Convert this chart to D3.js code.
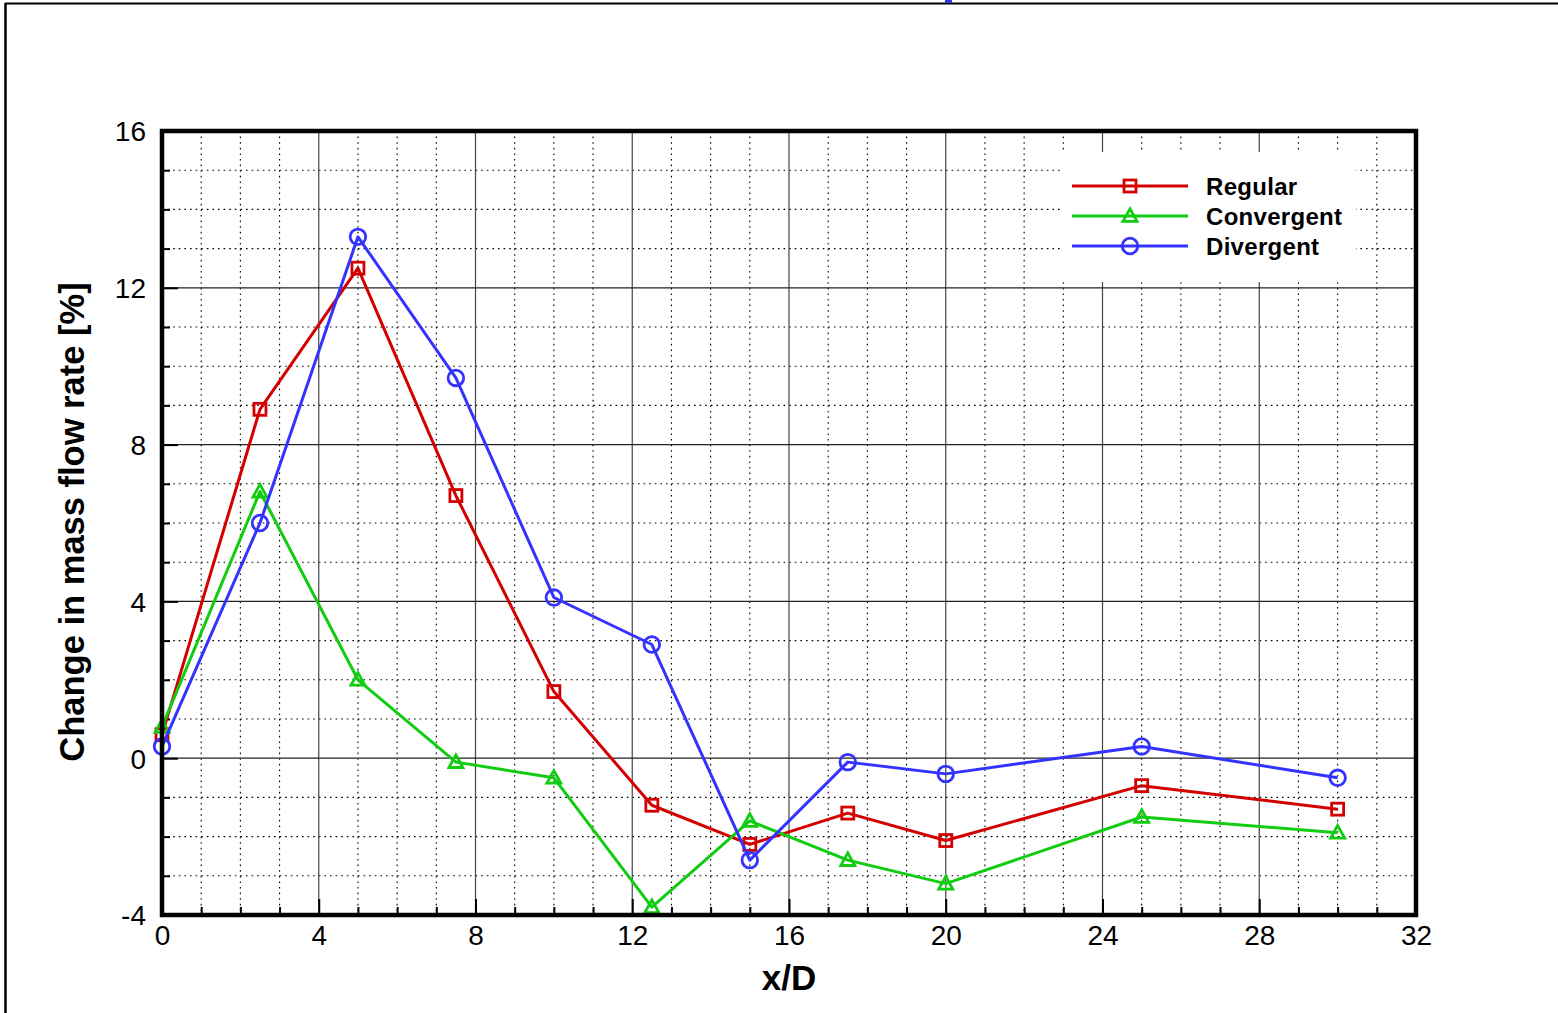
<!DOCTYPE html>
<html>
<head>
<meta charset="utf-8">
<script src="https://cdn.jsdelivr.net/npm/d3@7"></script>
<style>
  html, body { margin: 0; padding: 0; background: #fff; }
  svg { display: block; }
  text { font-family: "Liberation Sans", Arial, sans-serif; }
</style>
</head>
<body>
<svg id="chart" width="1558" height="1013"></svg>
<script>
// Streamwise stations (x/D) and the change in mass flow rate [%] for each hole shape
const xStations = [0, 2.5, 5, 7.5, 10, 12.5, 15, 17.5, 20, 25, 30];
const regular    = [0.6, 8.9, 12.5, 6.7, 1.7, -1.2, -2.2, -1.4, -2.1, -0.7, -1.3];
const convergent = [0.8, 6.8, 2.0, -0.1, -0.5, -3.8, -1.6, -2.6, -3.2, -1.5, -1.9];
const divergent  = [0.3, 6.0, 13.3, 9.7, 4.1, 2.9, -2.6, -0.1, -0.4, 0.3, -0.5];

const seriesNames = ["Regular", "Convergent", "Divergent"];
const seriesColors = ["#d40000", "#11cc11", "#3333ff"];
const seriesSymbols = ["square", "triangle", "circle"];

const xTicks = [0, 4, 8, 12, 16, 20, 24, 28, 32];
const yTicks = [-4, 0, 4, 8, 12, 16];

const xTitle = "x/D";
const yTitle = "Change in mass flow rate [%]";

const svg = d3.select("#chart");

// Outer page frame (top and left edges)
svg.append("line").attr("x1", 5).attr("x2", 1558).attr("y1", 3.5).attr("y2", 3.5)
  .attr("stroke", "#000").attr("stroke-width", 2.2);
svg.append("line").attr("x1", 5.5).attr("x2", 5.5).attr("y1", 3).attr("y2", 1013)
  .attr("stroke", "#000").attr("stroke-width", 2.5);
svg.append("rect").attr("x", 945).attr("y", 0).attr("width", 7).attr("height", 3)
  .attr("fill", "#3333dd");

const plot = { left: 162, right: 1416, top: 131, bottom: 915 };

const x = d3.scaleLinear().domain([0, 32]).range([plot.left, plot.right]);
const y = d3.scaleLinear().domain([-4, 16]).range([plot.bottom, plot.top]);

const g = svg.append("g");

// Minor dotted grid every 1 unit
const minorX = d3.range(1, 32).filter(v => v % 4 !== 0);
const minorY = d3.range(-3, 16).filter(v => v % 4 !== 0);
g.selectAll(".gx-minor").data(minorX).join("line")
  .attr("x1", d => x(d)).attr("x2", d => x(d))
  .attr("y1", plot.top).attr("y2", plot.bottom)
  .attr("stroke", "#000").attr("stroke-width", 1.1).attr("stroke-dasharray", "1.6,4");
g.selectAll(".gy-minor").data(minorY).join("line")
  .attr("x1", plot.left).attr("x2", plot.right)
  .attr("y1", d => y(d)).attr("y2", d => y(d))
  .attr("stroke", "#000").attr("stroke-width", 1.1).attr("stroke-dasharray", "1.6,4");

// Major solid grid every 4 units
g.selectAll(".gx-major").data(xTicks.slice(1, -1)).join("line")
  .attr("x1", d => x(d)).attr("x2", d => x(d))
  .attr("y1", plot.top).attr("y2", plot.bottom)
  .attr("stroke", "#444").attr("stroke-width", 1.2);
g.selectAll(".gy-major").data(yTicks.slice(1, -1)).join("line")
  .attr("x1", plot.left).attr("x2", plot.right)
  .attr("y1", d => y(d)).attr("y2", d => y(d))
  .attr("stroke", "#222").attr("stroke-width", 1.2);

// Inward tick marks on the left and bottom axes
const fmt = d => String(d);
const yAxis = d3.axisLeft(y).tickValues(yTicks).tickSize(-16).tickFormat(fmt);
const yMinorAxis = d3.axisLeft(y).tickValues(minorY).tickSize(-8).tickFormat("");
const xAxis = d3.axisBottom(x).tickValues(xTicks).tickSize(-16).tickFormat(fmt);
const xMinorAxis = d3.axisBottom(x).tickValues(minorX).tickSize(-8).tickFormat("");

function styleAxis(sel) {
  sel.select(".domain").remove();
  sel.selectAll(".tick line").attr("stroke", "#000").attr("stroke-width", 2);
  sel.selectAll(".tick text").attr("fill", "#000").attr("font-size", 28)
    .attr("font-family", "'Liberation Sans', Arial, sans-serif");
}

g.append("g").attr("transform", `translate(${plot.left},0)`).call(yAxis).call(styleAxis)
  .selectAll(".tick text").attr("x", -16).attr("dy", "0.35em");
g.append("g").attr("transform", `translate(${plot.left},0)`).call(yMinorAxis).call(styleAxis);
g.append("g").attr("transform", `translate(0,${plot.bottom})`).call(xAxis).call(styleAxis)
  .selectAll(".tick text").attr("y", 10);
g.append("g").attr("transform", `translate(0,${plot.bottom})`).call(xMinorAxis).call(styleAxis);

// Legend background box hides the grid underneath
g.append("rect").attr("x", 1062).attr("y", 152).attr("width", 294).attr("height", 130)
  .attr("fill", "#fff");

// Data series
const allSeries = [regular, convergent, divergent];
const line = d3.line().x((d, i) => x(xStations[i])).y(d => y(d));

function drawMarker(sel, symbol, color, cx, cy) {
  if (symbol === "square") {
    sel.append("rect").attr("x", cx - 6).attr("y", cy - 6).attr("width", 12).attr("height", 12)
      .attr("fill", "none").attr("stroke", color).attr("stroke-width", 2.8);
  } else if (symbol === "triangle") {
    const h = 12, w = 14;
    sel.append("path")
      .attr("d", `M${cx},${cy - h * 0.6} L${cx + w / 2},${cy + h * 0.45} L${cx - w / 2},${cy + h * 0.45} Z`)
      .attr("fill", "none").attr("stroke", color).attr("stroke-width", 2.8);
  } else {
    sel.append("circle").attr("cx", cx).attr("cy", cy).attr("r", 7.8)
      .attr("fill", "none").attr("stroke", color).attr("stroke-width", 2.8);
  }
}

allSeries.forEach((vals, k) => {
  const sg = g.append("g");
  sg.append("path").datum(vals).attr("d", line)
    .attr("fill", "none").attr("stroke", seriesColors[k]).attr("stroke-width", 3)
    .attr("stroke-linejoin", "round");
  vals.forEach((v, i) => drawMarker(sg, seriesSymbols[k], seriesColors[k], x(xStations[i]), y(v)));
});

// Plot frame
g.append("rect").attr("x", plot.left).attr("y", plot.top)
  .attr("width", plot.right - plot.left).attr("height", plot.bottom - plot.top)
  .attr("fill", "none").attr("stroke", "#000").attr("stroke-width", 4.5);

// Legend
const legend = svg.append("g");
seriesNames.forEach((name, k) => {
  const ly = 186 + k * 30;
  legend.append("line").attr("x1", 1072).attr("x2", 1188).attr("y1", ly).attr("y2", ly)
    .attr("stroke", seriesColors[k]).attr("stroke-width", 3);
  drawMarker(legend, seriesSymbols[k], seriesColors[k], 1130, ly);
  legend.append("text").attr("x", 1206).attr("y", ly).attr("dy", "0.36em")
    .attr("font-size", 24).attr("font-weight", "bold").attr("fill", "#000")
    .attr("letter-spacing", 0.3).text(name);
});

// Axis titles
svg.append("text").attr("x", (plot.left + plot.right) / 2).attr("y", 990)
  .attr("text-anchor", "middle").attr("font-size", 35).attr("font-weight", "bold").text(xTitle);
svg.append("text").attr("transform", `translate(84,${(plot.top + plot.bottom) / 2 - 1}) rotate(-90)`)
  .attr("text-anchor", "middle").attr("font-size", 34.5).attr("font-weight", "bold").text(yTitle);
</script>
</body>
</html>
